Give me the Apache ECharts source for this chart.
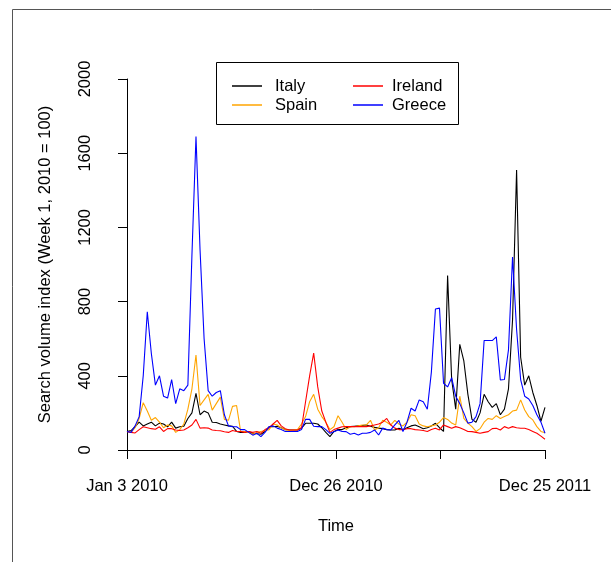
<!DOCTYPE html>
<html>
<head>
<meta charset="utf-8">
<script src="https://cdn.jsdelivr.net/npm/echarts@6/dist/echarts.min.js"></script>
<style>html,body{margin:0;padding:0;background:#fff}#c{width:611px;height:562px}</style>
</head>
<body>
<div id="c"></div>
<script>
const tickLabels = ['Jan 3 2010', '', 'Dec 26 2010', '', 'Dec 25 2011'];
const yTicks = [0, 400, 800, 1200, 1600, 2000];
const seriesNames = ['Italy', 'Spain', 'Ireland', 'Greece'];

const italy = [
  100, 105, 126, 150, 130, 140, 150, 130, 145, 140,
  125, 150, 118, 125, 128, 170, 200, 305, 190, 210,
  200, 150, 148, 140, 135, 130, 128, 100, 95, 95,
  100, 90, 88, 85, 100, 125, 125, 128, 120, 110,
  108, 108, 108, 118, 144, 144, 144, 140, 120, 95,
  72, 100, 110, 110, 120, 126, 128, 130, 132, 135,
  128, 122, 118, 115, 110, 108, 108, 117, 110, 120,
  130, 135, 125, 115, 120, 130, 144, 120, 100, 940,
  380, 220, 570, 480, 300, 165, 150, 200, 300, 260,
  230, 250, 190, 220, 330, 700, 1510, 500, 350, 400,
  310, 240, 155, 230
];
const spain = [
  100, 95, 120, 170, 255, 210, 160, 175, 150, 120,
  135, 130, 95, 110, 140, 220, 330, 512, 240, 270,
  300, 215, 250, 285, 165, 160, 235, 240, 100, 100,
  95, 85, 95, 100, 105, 110, 140, 135, 120, 110,
  105, 108, 110, 140, 180, 260, 300, 220, 180, 150,
  110, 125, 185, 150, 110, 125, 125, 130, 135, 135,
  160, 108, 120, 160, 150, 135, 160, 140, 130, 150,
  190, 185, 140, 130, 125, 130, 135, 150, 175, 165,
  145, 135, 290, 170, 145, 126, 100, 115, 150, 170,
  165, 185, 170, 180, 190, 210, 215, 270, 216, 180,
  162, 126, 100, 93
];
const ireland = [
  100, 95, 92, 110, 125, 120, 115, 112, 125, 100,
  115, 115, 108, 105, 108, 120, 135, 165, 118, 120,
  118, 108, 105, 104, 98, 95, 105, 100, 100, 95,
  100, 95, 100, 90, 110, 120, 140, 160, 130, 115,
  108, 108, 108, 120, 260, 400, 522, 340, 210, 150,
  95, 110, 118, 125, 126, 126, 126, 126, 126, 126,
  130, 135, 140, 150, 170, 135, 118, 110, 110, 115,
  115, 110, 108, 105, 100, 110, 117, 108, 135, 126,
  117, 126, 120, 110, 100, 99, 95, 90, 95, 99,
  115, 117, 108, 126, 117, 126, 120, 117, 117, 110,
  100, 90, 75, 58
];
const greece = [
  100, 95, 130, 180, 400, 745, 520, 350, 400, 290,
  280, 380, 250, 330, 320, 350, 1050, 1690, 1080, 600,
  320, 290, 310, 320, 190, 130, 125, 125, 110, 110,
  95, 80, 90, 72, 95, 125, 130, 118, 110, 100,
  100, 100, 100, 110, 165, 165, 128, 126, 126, 110,
  90, 99, 108, 100, 99, 85, 90, 81, 90, 90,
  95, 108, 81, 118, 110, 108, 135, 160, 100, 150,
  225, 210, 270, 260, 220, 420, 760, 765, 360, 340,
  390, 290, 250, 200, 145, 150, 180, 250, 590, 590,
  590, 610, 377, 380, 540, 1040, 650, 380, 290, 275,
  240, 190, 150, 90
];
const colors = ['#000000', '#FFA500', '#FF0000', '#0000FF'];
const allData = [italy, spain, ireland, greece];

const FONT = 'Liberation Sans, Arial, sans-serif';
const chart = echarts.init(document.getElementById('c'), null, {renderer: 'canvas'});
const xInterval = 25.75;

const option = {
  animation: false,
  backgroundColor: '#ffffff',
  grid: {left: 127, right: 66, top: 79, bottom: 112, containLabel: false},
  xAxis: {
    type: 'value', min: 0, max: 103, interval: xInterval, offset: 6,
    axisLine: {show: true, lineStyle: {color: '#000', width: 1}},
    axisTick: {show: true, length: 9, lineStyle: {color: '#000', width: 1}},
    splitLine: {show: false},
    axisLabel: {
      margin: 22, color: '#000', fontFamily: FONT, fontSize: 16.5,
      formatter: v => tickLabels[Math.round(v / xInterval)] || ''
    },
    name: 'Time', nameLocation: 'middle', nameGap: 62,
    nameTextStyle: {color: '#000', fontFamily: FONT, fontSize: 16.5}
  },
  yAxis: {
    type: 'value', min: yTicks[0], max: yTicks[yTicks.length - 1], interval: 400, offset: 17,
    axisLine: {show: true, lineStyle: {color: '#000', width: 1}},
    axisTick: {show: true, length: 9, lineStyle: {color: '#000', width: 1}},
    splitLine: {show: false},
    axisLabel: {rotate: 90, margin: 16, color: '#000', fontFamily: FONT, fontSize: 16.5,
      formatter: v => String(v)},
    name: 'Search volume index (Week 1, 2010 = 100)', nameLocation: 'middle', nameGap: 56, nameRotate: 90,
    nameTextStyle: {color: '#000', fontFamily: FONT, fontSize: 16.5}
  },
  legend: [
    {
      data: ['Italy', 'Spain'], orient: 'vertical', left: 232, top: 76.5, padding: 0,
      itemWidth: 30, itemHeight: 1.5, itemGap: 0, icon: 'rect',
      textStyle: {color: '#000', fontFamily: FONT, fontSize: 16.5, padding: [0, 0, 0, 8], lineHeight: 19}
    },
    {
      data: ['Ireland', 'Greece'], orient: 'vertical', left: 353, top: 76.5, padding: 0,
      itemWidth: 30, itemHeight: 1.5, itemGap: 0, icon: 'rect',
      textStyle: {color: '#000', fontFamily: FONT, fontSize: 16.5, padding: [0, 0, 0, 4], lineHeight: 19}
    }
  ],
  graphic: [
    {type: 'rect', left: 10, top: 7, shape: {x: 0.5, y: 0.5, width: 700, height: 700},
     style: {fill: 'none', stroke: '#555', lineWidth: 1}, silent: true, z: -10},
    {type: 'rect', left: 216, top: 62, shape: {x: 0.5, y: 0.5, width: 242, height: 62},
     style: {fill: '#fff', stroke: '#000', lineWidth: 1}, silent: true, z: 0}
  ],
  series: seriesNames.map((name, k) => ({
    name: name, type: 'line', symbol: 'none', showSymbol: false,
    color: colors[k],
    lineStyle: {color: colors[k], width: 1.1},
    data: allData[k].map((v, i) => [i, v]),
    z: 2 + k
  }))
};
chart.setOption(option);
</script>
</body>
</html>
